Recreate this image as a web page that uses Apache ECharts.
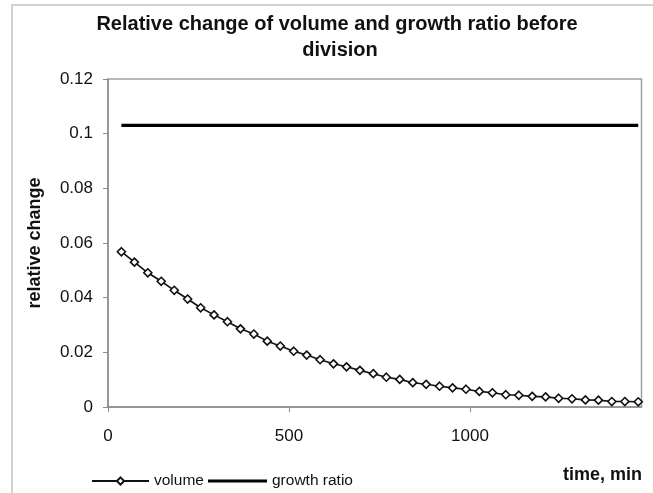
<!DOCTYPE html>
<html>
<head>
<meta charset="utf-8">
<script src="https://cdn.jsdelivr.net/npm/echarts@6/dist/echarts.min.js"></script>
<style>
html,body{margin:0;padding:0;background:#fff;}
#chart{width:653px;height:493px;}
</style>
</head>
<body>
<div id="chart"></div>
<script>
const titleLines = ['Relative change of volume and growth ratio before', 'division'];
const xAxisName = 'time, min';
const yAxisName = 'relative change';
const seriesNames = ['volume', 'growth ratio'];

const times = [37, 73, 110, 147, 183, 220, 256, 293, 330, 366,
               403, 440, 476, 513, 549, 586, 623, 659, 696, 733,
               769, 806, 842, 879, 916, 952, 989, 1026, 1062, 1099,
               1135, 1172, 1209, 1245, 1282, 1319, 1355, 1392, 1428, 1465];

const volume = [0.0568, 0.0530, 0.0491, 0.0460, 0.0427, 0.0395, 0.0363, 0.0337, 0.0312, 0.0286,
                0.0267, 0.0241, 0.0223, 0.0204, 0.0190, 0.0173, 0.0158, 0.0147, 0.0134, 0.0122,
                0.0109, 0.0101, 0.0089, 0.0083, 0.0076, 0.0070, 0.0065, 0.0057, 0.0052, 0.0045,
                0.0043, 0.0039, 0.0037, 0.0032, 0.0030, 0.0026, 0.0025, 0.0020, 0.0020, 0.0019];

const growthRatio = [0.103, 0.103, 0.103, 0.103, 0.103, 0.103, 0.103, 0.103, 0.103, 0.103,
                     0.103, 0.103, 0.103, 0.103, 0.103, 0.103, 0.103, 0.103, 0.103, 0.103,
                     0.103, 0.103, 0.103, 0.103, 0.103, 0.103, 0.103, 0.103, 0.103, 0.103,
                     0.103, 0.103, 0.103, 0.103, 0.103, 0.103, 0.103, 0.103, 0.103, 0.103];

const xTicks = {min: 0, max: 1474, interval: 500};
const yTicks = {min: 0, max: 0.12, interval: 0.02};

const FONT = 'Liberation Sans, Arial, sans-serif';
const chart = echarts.init(document.getElementById('chart'), null, {renderer: 'canvas'});

const legendText = {fontSize: 15.5, fontFamily: FONT, color: '#111'};

const option = {
  backgroundColor: '#ffffff',
  animation: false,
  graphic: [
    {type: 'rect', silent: true, z: -1,
     shape: {x: 12, y: 5, width: 700, height: 600},
     style: {fill: 'none', stroke: '#c4c4c4', lineWidth: 1.5}},
    {type: 'text', x: 337, y: 24,
     style: {text: titleLines[0], font: 'bold 20px ' + FONT, fill: '#111',
             textAlign: 'center', textVerticalAlign: 'middle'}},
    {type: 'text', x: 340, y: 50,
     style: {text: titleLines[1], font: 'bold 20px ' + FONT, fill: '#111',
             textAlign: 'center', textVerticalAlign: 'middle'}},
    {type: 'text', x: 642, y: 475,
     style: {text: xAxisName, font: 'bold 18px ' + FONT, fill: '#111',
             textAlign: 'right', textVerticalAlign: 'middle'}}
  ],
  grid: {left: 108, top: 79, right: 11.5, bottom: 86, show: true,
         borderColor: '#a0a0a0', borderWidth: 1.5, backgroundColor: 'transparent'},
  legend: [
    {
      left: 86, top: 468, itemWidth: 57, itemHeight: 9, itemGap: 2,
      textStyle: legendText,
      data: [seriesNames[0]]
    },
    {
      left: 203, top: 468, itemWidth: 59, itemHeight: 3, itemGap: 2,
      textStyle: legendText,
      data: [{name: seriesNames[1], icon: 'path://M0,0H20V1H0Z'}]
    }
  ],
  xAxis: {
    type: 'value', min: xTicks.min, max: xTicks.max, interval: xTicks.interval,
    axisLine: {show: true, lineStyle: {color: '#8c8c8c', width: 1.5}},
    axisTick: {show: true, inside: false, length: 5, lineStyle: {color: '#8c8c8c'}},
    axisLabel: {fontSize: 17, fontFamily: FONT, color: '#111', margin: 21, showMaxLabel: false,
                formatter: v => String(v)},
    splitLine: {show: false}
  },
  yAxis: {
    type: 'value', min: yTicks.min, max: yTicks.max, interval: yTicks.interval,
    name: yAxisName, nameLocation: 'middle', nameGap: 64, nameRotate: 90,
    nameTextStyle: {fontSize: 18, fontWeight: 'bold', fontFamily: FONT, color: '#111'},
    axisLine: {show: true, lineStyle: {color: '#8c8c8c', width: 1.5}},
    axisTick: {show: true, inside: false, length: 5, lineStyle: {color: '#8c8c8c'}},
    axisLabel: {fontSize: 17, fontFamily: FONT, color: '#111', margin: 15},
    splitLine: {show: false}
  },
  series: [
    {
      name: seriesNames[0], type: 'line',
      data: times.map((t, i) => [t, volume[i]]),
      symbol: 'diamond', symbolSize: 8, showSymbol: true,
      lineStyle: {color: '#111', width: 1.6},
      itemStyle: {color: '#ffffff', borderColor: '#111', borderWidth: 1.6},
      z: 3
    },
    {
      name: seriesNames[1], type: 'line',
      data: times.map((t, i) => [t, growthRatio[i]]),
      symbol: 'none', showSymbol: false,
      lineStyle: {color: '#000', width: 3.2},
      itemStyle: {color: '#000'},
      z: 2
    }
  ]
};
chart.setOption(option);
</script>
</body>
</html>
